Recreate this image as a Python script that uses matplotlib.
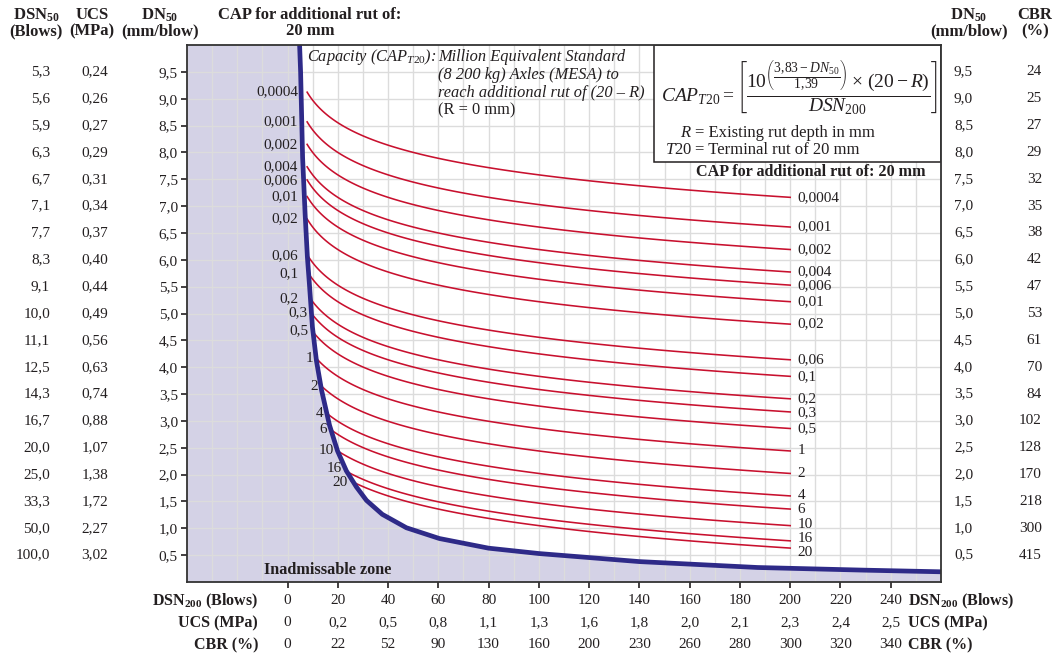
import numpy as np
import matplotlib
matplotlib.use('Agg')
import matplotlib.pyplot as plt
from matplotlib.transforms import blended_transform_factory as blend
from matplotlib.patches import Rectangle

plt.rcParams['font.family'] = ['Liberation Serif', 'DejaVu Serif']
plt.rcParams['mathtext.fontset'] = 'custom'
plt.rcParams['mathtext.rm'] = 'Liberation Serif'
plt.rcParams['mathtext.it'] = 'Liberation Serif:italic'
plt.rcParams['mathtext.bf'] = 'Liberation Serif:bold'

# DN50 rows and their DSN50 / UCS / CBR equivalents
dn50 = [9.5, 9.0, 8.5, 8.0, 7.5, 7.0, 6.5, 6.0, 5.5, 5.0,
        4.5, 4.0, 3.5, 3.0, 2.5, 2.0, 1.5, 1.0, 0.5]
dsn50 = ['5,3', '5,6', '5,9', '6,3', '6,7', '7,1', '7,7', '8,3', '9,1', '10,0',
         '11,1', '12,5', '14,3', '16,7', '20,0', '25,0', '33,3', '50,0', '100,0']
ucs_left = ['0,24', '0,26', '0,27', '0,29', '0,31', '0,34', '0,37', '0,40', '0,44', '0,49',
            '0,56', '0,63', '0,74', '0,88', '1,07', '1,38', '1,72', '2,27', '3,02']
cbr_right = ['24', '25', '27', '29', '32', '35', '38', '42', '47', '53',
             '61', '70', '84', '102', '128', '170', '218', '300', '415']

# DSN200 axis and its UCS / CBR equivalents
dsn200 = [0, 20, 40, 60, 80, 100, 120, 140, 160, 180, 200, 220, 240]
ucs_bottom = ['0', '0,2', '0,5', '0,8', '1,1', '1,3', '1,6', '1,8', '2,0', '2,1', '2,3', '2,4', '2,5']
cbr_bottom = ['0', '22', '52', '90', '130', '160', '200', '230', '260', '280', '300', '320', '340']

# capacity curves (MESA) and the DSN200 where each one starts
cap = [0.0004, 0.001, 0.002, 0.004, 0.006, 0.01, 0.02, 0.06, 0.1, 0.2,
       0.3, 0.5, 1, 2, 4, 6, 10, 16, 20]
cap_start = [7.8, 7.8, 7.8, 7.8, 7.8, 7.8, 7.8, 8.1, 8.4, 9.0,
             9.4, 9.9, 11.5, 13.5, 15.5, 17.0, 20.0, 23.0, 25.4]
cap_end = 200

# edge of the inadmissible zone
zone_dsn = [4.8, 5.2, 6.0, 7.0, 7.9, 8.7, 9.9, 11.5, 13.5, 16.7, 19.9, 23.4,
            27.4, 31.4, 37.7, 47.3, 60.4, 80, 100, 140, 187, 230, 260]
zone_dn = [10.0, 9.5, 7.9, 6.85, 6.05, 5.55, 4.75, 4.12, 3.58, 2.92, 2.44, 2.07,
           1.77, 1.52, 1.26, 1.01, 0.81, 0.63, 0.53, 0.38, 0.27, 0.22, 0.19]

W, H = 1053, 659
ink = '#231f20'
red = '#c8102e'
navy = '#2e2a88'
zone_col = '#d4d2e6'
px_per_dn = 53.7


def fx(px):
    return px / W


def fy(py):
    return 1 - py / H


def comma(v, fmt='{:g}'):
    return fmt.format(v).replace('.', ',')


def rut_dn(c, dsn):
    # CAP_T20 = 10^((3,83 - DN50)/1,39) * (20 - R) / DSN200, with R = 0
    return 3.83 - 1.39 * np.log10(c * dsn / 20.0)


def spread(ys, gap):
    # push label positions apart (in DN units) so they don't sit on top of each other
    ys = list(ys)
    for _ in range(50):
        moved = False
        for i in range(1, len(ys)):
            d = ys[i - 1] - ys[i]
            if d < gap:
                shift = (gap - d) / 2
                ys[i - 1] += shift
                ys[i] -= shift
                moved = True
        if not moved:
            break
    return ys


fig = plt.figure(figsize=(W / 100, H / 100), dpi=100)
ax = fig.add_axes([fx(187), fy(582), fx(941) - fx(187), fy(45) - fy(582)])
ax.set_xlim(-40, 260)
ax.set_ylim(0, 10)

# inadmissible zone
ax.fill([-40, -40] + zone_dsn + [260], [0, 10] + zone_dn + [0],
        color=zone_col, lw=0, zorder=0.2)
ax.plot(zone_dsn, zone_dn, color=navy, lw=3.4, solid_capstyle='butt', zorder=3)

# capacity curves
gap = 14 / px_per_dn
right_y = spread([rut_dn(c, cap_end) for c in cap], gap)
left_y = spread([rut_dn(c, s) for c, s in zip(cap, cap_start)], gap)
for c, s, ry, ly in zip(cap, cap_start, right_y, left_y):
    d = np.geomspace(s, cap_end, 120)
    ax.plot(d, rut_dn(c, d), color=red, lw=1.15, zorder=2)
    ax.text(cap_end + 3, ry, comma(c), ha='left', va='center',
            fontsize=11, color=ink, zorder=5)
    lx = s - 1.4 if s > 9 else 4.2
    ax.text(lx, ly, comma(c), ha='right', va='center',
            fontsize=11, color=ink, zorder=5)

# grid and ticks
ax.set_axisbelow(True)
ax.set_xticks(dsn200)
ax.set_xticklabels([str(v) for v in dsn200])
ax.set_xticks(np.arange(-40, 261, 10), minor=True)
ax.set_yticks(dn50)
ax.set_yticklabels([comma(v, '{:.1f}') for v in dn50])
ax.grid(which='both', color='#dcdcdc', lw=1.0)
ax.tick_params(axis='x', which='major', direction='out', length=4.5, width=1.2,
               color=ink, pad=4.5, labelsize=11, labelcolor=ink)
ax.tick_params(axis='y', which='major', direction='out', length=4.0, width=1.2,
               color=ink, pad=2.5, labelsize=11, labelcolor=ink)
ax.tick_params(which='minor', length=0)
for sp in ax.spines.values():
    sp.set_linewidth(1.3)
    sp.set_color('#333333')
    sp.set_zorder(6)

# formula box
bx0 = (654 - 187) / 754
by0 = (582 - 162) / 537
ax.add_patch(Rectangle((bx0, by0), 1 - bx0, 1 - by0, transform=ax.transAxes,
                       fc='white', ec=ink, lw=1.1, zorder=4))
fig.text(fx(661), fy(88),
         r'$CAP_{T20} = \left[\dfrac{10^{\left(\dfrac{3{,}83-DN_{50}}{1{,}39}\right)}'
         r'\times\,(20-R)}{DSN_{200}}\right]$',
         ha='left', va='center', fontsize=14, color=ink, zorder=7)
fig.text(fx(692), fy(133), r'$R$', ha='right', va='center', fontsize=12, color=ink)
fig.text(fx(695), fy(133), '= Existing rut depth in mm', ha='left', va='center',
         fontsize=12, color=ink)
fig.text(fx(692), fy(150), r'$T20$', ha='right', va='center', fontsize=12, color=ink)
fig.text(fx(695), fy(150), '= Terminal rut of 20 mm', ha='left', va='center',
         fontsize=12, color=ink)
fig.text(fx(811), fy(172), 'CAP for additional rut of: 20 mm', ha='center', va='center',
         fontsize=11.6, fontweight='bold', color=ink)

# capacity note
fig.text(fx(307), fy(57), r'Capacity (CAP$_{T20}$):', ha='left', va='center',
         fontsize=11.8, style='italic', color=ink)
for i, line in enumerate(['Million Equivalent Standard',
                          '(8 200 kg) Axles (MESA) to',
                          'reach additional rut of (20 \u2013 R)']):
    fig.text(fx(438), fy(57 + 18 * i), line, ha='left', va='center',
             fontsize=11.8, style='italic', color=ink)
fig.text(fx(438), fy(110), '(R = 0 mm)', ha='left', va='center', fontsize=11.8, color=ink)

ax.text(16, 0.22, 'Inadmissable zone', ha='center', va='center',
        fontsize=11.7, fontweight='bold', color=ink, zorder=5)

# side columns
left_tr = blend(fig.transFigure, ax.transData)
for v, a, b, c in zip(dn50, dsn50, ucs_left, cbr_right):
    fig.text(fx(50), v, a, transform=left_tr, ha='right', va='center', fontsize=11, color=ink)
    fig.text(fx(108), v, b, transform=left_tr, ha='right', va='center', fontsize=11, color=ink)
    fig.text(fx(954), v, comma(v, '{:.1f}'), transform=left_tr, ha='left', va='center',
             fontsize=11, color=ink)
    fig.text(fx(1042), v, c, transform=left_tr, ha='right', va='center', fontsize=11, color=ink)

# bottom rows
bot_tr = blend(ax.transData, fig.transFigure)
for v, u, c in zip(dsn200, ucs_bottom, cbr_bottom):
    fig.text(v, fy(623), u, transform=bot_tr, ha='center', va='center', fontsize=11, color=ink)
    fig.text(v, fy(645), c, transform=bot_tr, ha='center', va='center', fontsize=11, color=ink)

row_names = [r'DSN$_{\mathbf{200}}$ (Blows)', 'UCS (MPa)', 'CBR (%)']
for name, py in zip(row_names, [601, 623, 645]):
    fig.text(fx(258), fy(py), name, ha='right', va='center', fontsize=11.5,
             fontweight='bold', color=ink)
    fig.text(fx(908), fy(py), name, ha='left', va='center', fontsize=11.5,
             fontweight='bold', color=ink)

# column headers, two lines each
headers = [(36, r'DSN$_{\mathbf{50}}$', '(Blows)'),
           (92, 'UCS', '(MPa)'),
           (160, r'DN$_{\mathbf{50}}$', '(mm/blow)'),
           (310, 'CAP for additional rut of:', '20 mm'),
           (969, r'DN$_{\mathbf{50}}$', '(mm/blow)'),
           (1035, 'CBR', '(%)')]
for px, top, bottom in headers:
    fig.text(fx(px), fy(15), top, ha='center', va='center',
             fontsize=12, fontweight='bold', color=ink)
    fig.text(fx(px), fy(31), bottom, ha='center', va='center',
             fontsize=12, fontweight='bold', color=ink)

fig.savefig('out.png', dpi=100)
